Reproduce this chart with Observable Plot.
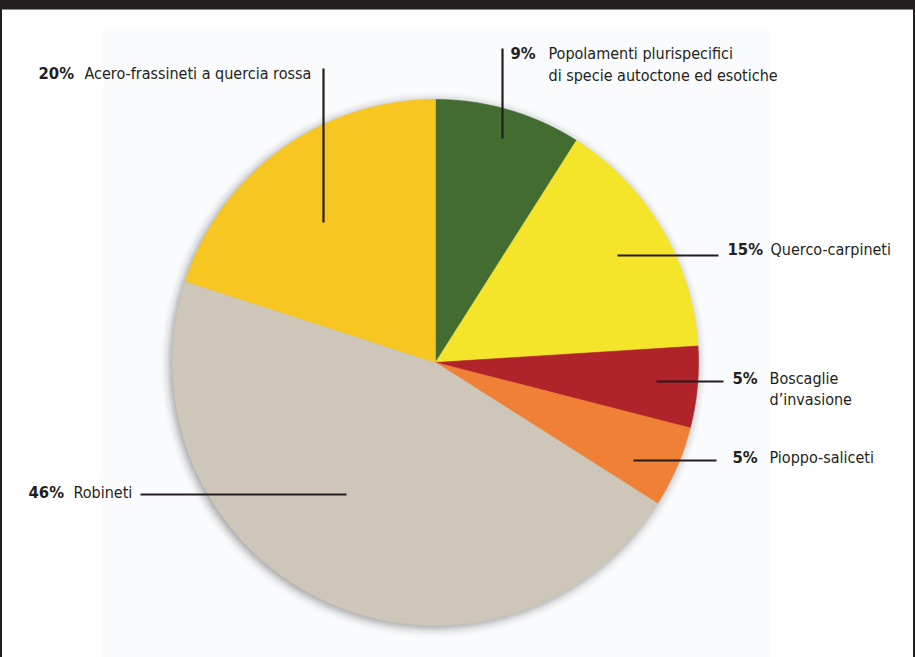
<!DOCTYPE html>
<html>
<head>
<meta charset="utf-8">
<script src="https://cdn.jsdelivr.net/npm/d3@7"></script>
<script src="https://cdn.jsdelivr.net/npm/@observablehq/plot@0.6"></script>
<style>
  html, body { margin: 0; padding: 0; background: #fff; }
  #wrap { position: relative; width: 915px; height: 657px; overflow: hidden; }
  #topbar { position: absolute; left: 0; top: 0; width: 915px; height: 9px; background: #231f20; border-bottom: 1px solid #8a8a8a; }
  #lb { position: absolute; left: 0; top: 0; width: 2px; height: 657px; background: #231f20; }
  #rb { position: absolute; left: 913px; top: 0; width: 2px; height: 657px; background: #231f20; }
</style>
</head>
<body>
<div id="wrap"><div id="chart"></div><div id="topbar"></div><div id="lb"></div><div id="rb"></div></div>
<script>
// ---- data ----
const categories = [
  "Popolamenti plurispecifici di specie autoctone ed esotiche",
  "Querco-carpineti",
  "Boscaglie d’invasione",
  "Pioppo-saliceti",
  "Robineti",
  "Acero-frassineti a quercia rossa"
];
const values = [9, 15, 5, 5, 46, 20];
const percentLabels = ["9%", "15%", "5%", "5%", "46%", "20%"];
const labelLines = [
  ["Popolamenti plurispecifici", "di specie autoctone ed esotiche"],
  ["Querco-carpineti"],
  ["Boscaglie", "d’invasione"],
  ["Pioppo-saliceti"],
  ["Robineti"],
  ["Acero-frassineti a quercia rossa"]
];
const colors = ["#436c30", "#f5e52a", "#b1232b", "#ef8036", "#cec7b9", "#f8c621"];

// ---- layout (pixel units of the plot frame) ----
const W = 915, H = 657;
const cx = 435, cy = 362, R = 263;
const labelLayout = [
  {pct: [510, 58], text: [548, 58], lh: 22, leader: [[502, 48], [502, 138]]},
  {pct: [727, 254], text: [770, 254], lh: 22, leader: [[617, 255], [718, 255]]},
  {pct: [732, 383], text: [769, 383], lh: 21, leader: [[656, 381], [723, 381]]},
  {pct: [732, 462], text: [769, 462], lh: 22, leader: [[633, 460], [716, 460]]},
  {pct: [28, 497], text: [73, 497], lh: 22, leader: [[140, 494], [346, 494]]},
  {pct: [38, 78], text: [84, 78], lh: 22, leader: [[323, 68], [323, 222]]}
];

// ---- geometry from data ----
const arcs = d3.pie().sort(null).value(d => d)(values);
const slicePts = [];
arcs.forEach((a, i) => {
  slicePts.push({k: i, x: cx, y: cy, c: colors[i]});
  const n = Math.max(4, Math.ceil((a.endAngle - a.startAngle) / 0.005));
  for (let j = 0; j <= n; j++) {
    const t = a.startAngle + (a.endAngle - a.startAngle) * j / n;
    slicePts.push({k: i, x: cx + R * Math.sin(t), y: cy - R * Math.cos(t), c: colors[i]});
  }
  slicePts.push({k: i, x: cx, y: cy, c: colors[i]});
});
const shadowPts = d3.range(0, 361, 1).map(d => {
  const t = d * Math.PI / 180;
  return {x: cx - 2 + (R + 1) * Math.sin(t), y: cy + 2 - (R + 1) * Math.cos(t)};
});

const pctRows = labelLayout.map((l, i) => ({x: l.pct[0], y: l.pct[1], t: percentLabels[i]}));
const txtRows = [];
labelLayout.forEach((l, i) => labelLines[i].forEach((s, j) => txtRows.push({x: l.text[0], y: l.text[1] + j * l.lh, t: s})));
const leaders = labelLayout.map((l, i) => ({x1: l.leader[0][0], y1: l.leader[0][1], x2: l.leader[1][0], y2: l.leader[1][1], k: categories[i]}));

const font = "'Liberation Sans Narrow', 'DejaVu Sans Condensed', 'Roboto Condensed', sans-serif";

const plot = Plot.plot({
  width: W, height: H,
  margin: 0,
  x: {domain: [0, W], range: [0, W], axis: null},
  y: {domain: [0, H], range: [0, H], axis: null},
  color: {type: "identity"},
  style: {background: "transparent", fontFamily: font},
  marks: [
    Plot.rect([{x1: 103, x2: 770, y1: 29, y2: H}], {x1: "x1", x2: "x2", y1: "y1", y2: "y2", fill: "#fafbfd"}),
    Plot.line(shadowPts, {x: "x", y: "y", fill: "#2a2a2a", fillOpacity: 0.45, stroke: "none"}),
    Plot.line(slicePts, {x: "x", y: "y", z: "k", fill: "c", stroke: "c", strokeWidth: 0.6, curve: "linear"}),
    Plot.link(leaders, {x1: "x1", y1: "y1", x2: "x2", y2: "y2", stroke: "#231f20", strokeWidth: 2.2}),
    Plot.text(pctRows, {x: "x", y: "y", text: "t", textAnchor: "start", lineAnchor: "bottom", fontSize: 16.5, fontWeight: "bold", fill: "#231f20"}),
    Plot.text(txtRows, {x: "x", y: "y", text: "t", textAnchor: "start", lineAnchor: "bottom", fontSize: 16, fill: "#231f20"})
  ]
});
document.getElementById("chart").appendChild(plot);

// soft drop shadow on the first line group (the shadow disc)
const svg = d3.select(plot);
const defs = svg.insert("defs", ":first-child");
defs.append("filter").attr("id", "pieblur").attr("x", "-20%").attr("y", "-20%").attr("width", "140%").attr("height", "140%")
  .append("feGaussianBlur").attr("stdDeviation", 4);
const lineGroups = plot.querySelectorAll('g[aria-label="line"]');
if (lineGroups.length) lineGroups[0].setAttribute("filter", "url(#pieblur)");
</script>
</body>
</html>
